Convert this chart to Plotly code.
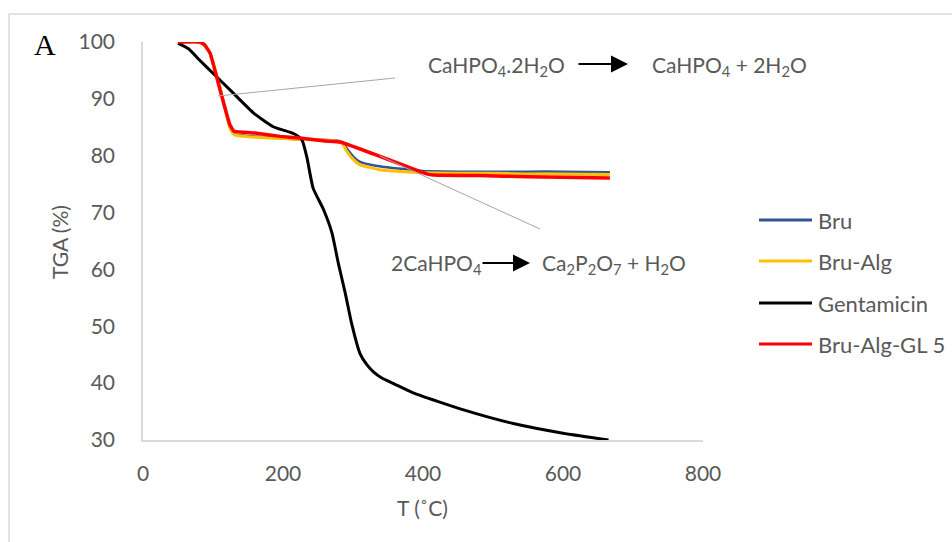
import plotly.graph_objects as go

# Thermogravimetric curves: temperature (°C) and residual mass (%)
bru_T = [50, 80, 86, 95, 110, 124, 130, 170, 220, 280, 286, 291, 300, 310, 325, 340, 360, 386, 400, 450, 500, 550, 600, 667]
bru_tga = [100, 100, 99.6, 98.2, 92, 85, 83.8, 83.3, 82.9, 82.6, 82.1, 81.3, 79.9, 78.9, 78.4, 78.1, 77.8, 77.5, 77.3, 77.2, 77.2, 77.2, 77.2, 77.1]

bru_alg_T = [50, 80, 86, 95, 110, 124, 130, 170, 220, 280, 286, 291, 300, 310, 325, 340, 360, 386, 400, 450, 500, 550, 600, 667]
bru_alg_tga = [100, 100, 99.6, 98.2, 92, 85, 83.7, 83.2, 82.9, 82.5, 81.9, 80.8, 79.4, 78.4, 77.9, 77.5, 77.3, 77.1, 77.0, 76.9, 76.9, 76.8, 76.8, 76.7]

gent_T = [50, 65, 81, 100, 129, 158, 186, 215, 227, 234, 243, 258, 270, 279, 289, 298, 310, 320, 330, 340, 360, 386, 458, 529, 600, 665]
gent_tga = [99.8, 98.8, 96.8, 94.5, 91, 87.5, 85.1, 83.9, 82.8, 79.8, 74.3, 70.5, 66.4, 61.1, 55.8, 50.5, 45.2, 43.2, 41.9, 41.0, 39.8, 38.3, 35.3, 32.9, 31.2, 30.0]

gl5_T = [50, 81, 88, 96, 110, 124, 130, 160, 196, 224, 260, 282, 396, 405, 415, 480, 550, 667]
gl5_tga = [100, 100, 99.5, 98, 91.6, 85.5, 84.3, 84.0, 83.4, 83.1, 82.6, 82.4, 77.2, 76.8, 76.6, 76.5, 76.3, 76.1]

series_names = ["Bru", "Bru-Alg", "Gentamicin", "Bru-Alg-GL 5"]
series_colors = ["#2F5597", "#FFC000", "#000000", "#FF0000"]
series_widths = [2.5, 3, 3, 3.5]
series_smoothing = [0.5, 0.5, 0.5, 0.3]
series_data = [(bru_T, bru_tga), (bru_alg_T, bru_alg_tga), (gent_T, gent_tga), (gl5_T, gl5_tga)]

x_ticks = [0, 200, 400, 600, 800]
y_ticks = [30, 40, 50, 60, 70, 80, 90, 100]

FONT = "Lato"
GREY = "#595959"
AXIS_GREY = "#D9D9D9"

W, H = 952, 542
L, R, T, B = 143, 703, 42, 440  # plot area in pixels


def px(xp):
    return (xp - L) / (R - L)


def py(yp):
    return (B - yp) / (B - T)


fig = go.Figure()
for name, color, width, sm, (xs, ys) in zip(series_names, series_colors, series_widths,
                                             series_smoothing, series_data):
    fig.add_trace(go.Scatter(
        x=xs, y=ys, mode="lines", name=name,
        line=dict(color=color, width=width, shape="spline", smoothing=sm),
        showlegend=False,
    ))

shapes = []
annotations = []

# outer chart frame
shapes.append(dict(type="rect", xref="paper", yref="paper",
                   x0=px(9), x1=px(970), y0=py(14), y1=py(570),
                   line=dict(color=AXIS_GREY, width=1.5), layer="below"))

# leader lines for the reaction labels
shapes.append(dict(type="line", xref="paper", yref="paper",
                   x0=px(218), y0=py(96), x1=px(395), y1=py(78),
                   line=dict(color="#A6A6A6", width=1)))
shapes.append(dict(type="line", xref="paper", yref="paper",
                   x0=px(380), y0=py(156), x1=px(540), y1=py(229),
                   line=dict(color="#A6A6A6", width=1)))

# legend: line sample + label
legend_y = [220, 261, 303, 344]
for name, color, yy in zip(series_names, series_colors, legend_y):
    shapes.append(dict(type="line", xref="paper", yref="paper",
                       x0=px(759), x1=px(812), y0=py(yy), y1=py(yy),
                       line=dict(color=color, width=3)))
    annotations.append(dict(xref="paper", yref="paper", x=px(816), y=py(yy),
                            text=name, showarrow=False, xanchor="left", yanchor="middle",
                            font=dict(family=FONT, size=22, color=GREY)))

# reaction labels
rx_font = dict(family=FONT, size=21, color=GREY)
annotations += [
    dict(xref="paper", yref="paper", x=px(426), y=py(66), xanchor="left", yanchor="middle",
         text="CaHPO<sub>4</sub>.2H<sub>2</sub>O", showarrow=False, font=rx_font),
    dict(xref="paper", yref="paper", x=px(650), y=py(66), xanchor="left", yanchor="middle",
         text="CaHPO<sub>4</sub> + 2H<sub>2</sub>O", showarrow=False, font=rx_font),
    dict(xref="paper", yref="paper", x=px(389), y=py(264), xanchor="left", yanchor="middle",
         text="2CaHPO<sub>4</sub>", showarrow=False, font=rx_font),
    dict(xref="paper", yref="paper", x=px(540), y=py(264), xanchor="left", yanchor="middle",
         text="Ca<sub>2</sub>P<sub>2</sub>O<sub>7</sub> + H<sub>2</sub>O", showarrow=False, font=rx_font),
]
# reaction arrows
for x_tail, x_head, yy in [(577, 628, 64), (481, 530, 263)]:
    annotations.append(dict(xref="paper", yref="paper", x=px(x_head), y=py(yy),
                            ax=-(x_head - x_tail), ay=0, axref="pixel", ayref="pixel",
                            text="", showarrow=True, arrowhead=2, arrowsize=1.7,
                            arrowwidth=2, arrowcolor="#000000", standoff=0))

# panel letter
annotations.append(dict(xref="paper", yref="paper", x=px(45), y=py(44),
                        text="A", showarrow=False, xanchor="center", yanchor="middle",
                        font=dict(family="Liberation Serif", size=30, color="#000000")))

# axis titles
annotations.append(dict(xref="paper", yref="paper", x=px(60), y=py(242),
                        text="TGA (%)", showarrow=False, textangle=-90,
                        xanchor="center", yanchor="middle",
                        font=dict(family=FONT, size=21, color=GREY)))
annotations.append(dict(xref="paper", yref="paper", x=px(422), y=py(507),
                        text="T (˚C)", showarrow=False, xanchor="center", yanchor="middle",
                        font=dict(family=FONT, size=21, color=GREY)))

fig.update_layout(
    width=W, height=H,
    margin=dict(l=L, r=W - R, t=T, b=H - B, pad=0),
    paper_bgcolor="white", plot_bgcolor="white",
    shapes=shapes, annotations=annotations,
    showlegend=False,
    xaxis=dict(range=[0, 800], tickvals=x_ticks, showgrid=False, zeroline=False,
               showline=True, linecolor=AXIS_GREY, linewidth=1.5, ticks="",
               ticklabelstandoff=14,
               tickfont=dict(family=FONT, size=21, color=GREY)),
    yaxis=dict(range=[30, 100], tickvals=y_ticks, showgrid=False, zeroline=False,
               showline=True, linecolor=AXIS_GREY, linewidth=1.5, ticks="",
               ticklabelstandoff=22,
               tickfont=dict(family=FONT, size=21, color=GREY)),
)

fig.write_html("out.html")
